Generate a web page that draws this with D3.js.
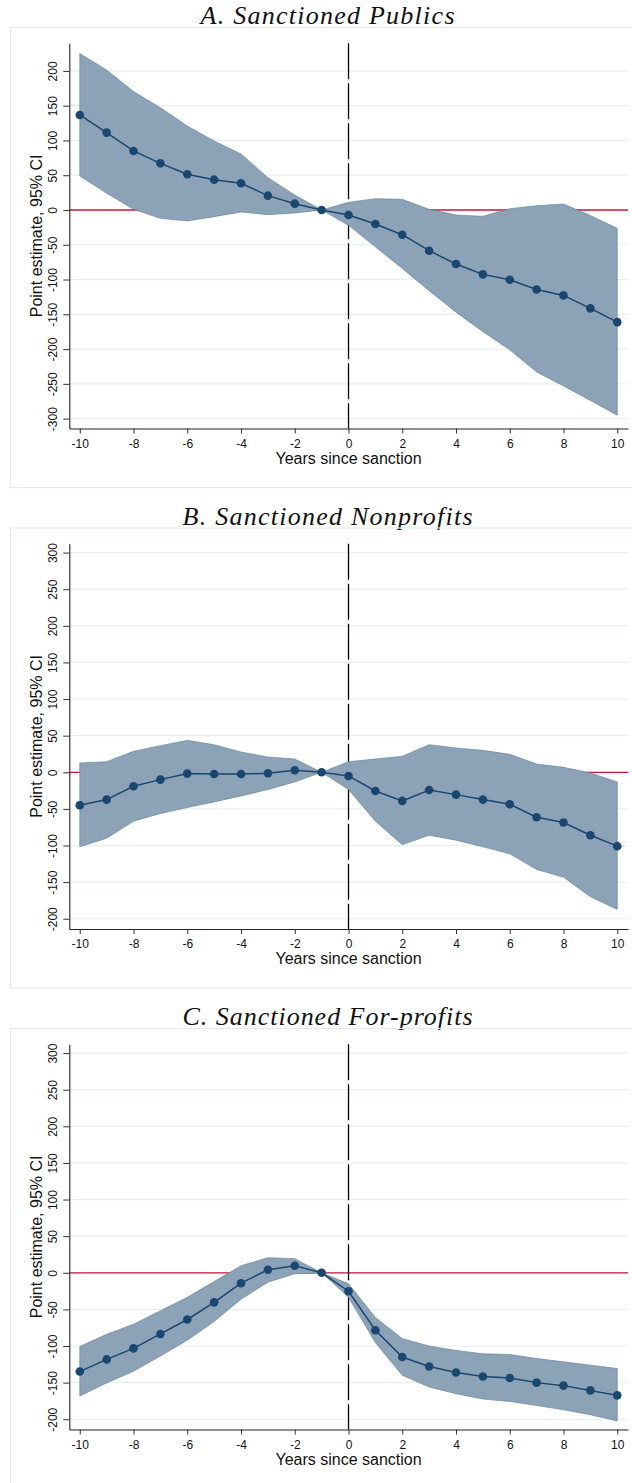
<!DOCTYPE html>
<html>
<head>
<meta charset="utf-8">
<script src="https://cdn.jsdelivr.net/npm/d3@7"></script>
<style>
  body { margin: 0; background: #fff; }
  svg { display: block; }
</style>
</head>
<body>
<div id="chart"></div>
<script>
// Event-study panels: point estimates with 95% CI by years since sanction

const years = [-10, -9, -8, -7, -6, -5, -4, -3, -2, -1, 0, 1, 2, 3, 4, 5, 6, 7, 8, 9, 10];
const xTicks = [-10, -8, -6, -4, -2, 0, 2, 4, 6, 8, 10];

const publicsEst = [136.7, 111.3, 84.9, 67.1, 51.3, 43.6, 38.4, 20.6, 9.1, 0, -7.2, -20.1, -35.5, -58.5, -77.7, -92.6, -100.4, -114.3, -122.8, -141.5, -161.2];
const publicsHi  = [225, 201.4, 170.3, 147.2, 120.9, 99.3, 80.6, 46.5, 21.6, 0, 11, 16.3, 15.3, 1, -7.2, -9.1, 1.9, 6.2, 8.6, -8, -26.4];
const publicsLo  = [48.9, 24, 1, -12, -15.8, -9.6, -2.9, -6.7, -4.3, 0, -22, -53, -84, -116, -147, -175, -201, -233, -253, -274, -295];

const nonprofitEst = [-45, -37.3, -19.1, -10, -1.8, -2.3, -2.3, -1.4, 2.7, 0, -5, -25.5, -39.1, -24.1, -30.5, -37.3, -43.6, -61.4, -68.6, -85.9, -100.9];
const nonprofitHi  = [12.7, 14.5, 28.6, 36.4, 43.6, 37.7, 27.7, 20.9, 18.2, 0, 14.5, 18.2, 21.8, 37.7, 33.2, 30, 24.5, 11.4, 6.8, -0.9, -13.2];
const nonprofitLo  = [-101.8, -90, -66.8, -56.4, -48.2, -40.5, -32.3, -23.6, -13.2, 0, -23.6, -66.8, -99, -85.9, -92.7, -101.8, -111.4, -132.7, -143.2, -170, -187.3];

const forprofitEst = [-134.9, -118.3, -103.2, -83.5, -63.8, -40.4, -14.2, 4.1, 9.6, 0, -25.2, -78.4, -115.1, -128, -136.2, -141.7, -143.6, -150, -154.1, -160.6, -167.4];
const forprofitHi  = [-100.5, -84, -70.2, -51.8, -33.5, -11.9, 9.6, 20.6, 19.3, 0, -15.1, -61, -89.9, -100, -106, -110.6, -111.5, -117, -121.6, -126.1, -130.7];
const forprofitLo  = [-168.3, -150.5, -134.4, -113.8, -92.2, -66.5, -36.2, -12.8, -1.4, 0, -33.5, -95.4, -139.9, -156, -165.1, -172.5, -175.7, -181.2, -187.2, -194, -202.3];

const yTicksPublics = [-300, -250, -200, -150, -100, -50, 0, 50, 100, 150, 200];
const yTicksOther   = [-200, -150, -100, -50, 0, 50, 100, 150, 200, 250, 300];

const titles = ["A. Sanctioned Publics", "B. Sanctioned Nonprofits", "C. Sanctioned For-profits"];

const width = 632, height = 1483;
const navy = "#1a476f";
const sans = "'Liberation Sans', Arial, sans-serif";

const panels = [
  { title: titles[0], est: publicsEst, hi: publicsHi, lo: publicsLo, yDomain: [-314.2, 239.7], yTicks: yTicksPublics, top: 0, tw: 254 },
  { title: titles[1], est: nonprofitEst, hi: nonprofitHi, lo: nonprofitLo, yDomain: [-214, 312], yTicks: yTicksOther, top: 500.5, tw: 290 },
  { title: titles[2], est: forprofitEst, hi: forprofitHi, lo: forprofitLo, yDomain: [-214, 312], yTicks: yTicksOther, top: 1001, tw: 290 }
];

const svg = d3.select("#chart").append("svg")
    .attr("width", width)
    .attr("height", height)
    .style("background", "#fff");

const plotLeft = 69.3, plotRight = 628, plotTop = 43.3, plotBottom = 428.5;

const x = d3.scaleLinear().domain([-10.39, 10.4]).range([plotLeft, plotRight]);

// plain hyphen for negatives, like the original
const fmt = d => String(d);

panels.forEach(p => {
  const g = svg.append("g").attr("transform", `translate(0,${p.top})`);
  const y = d3.scaleLinear().domain(p.yDomain).range([plotBottom, plotTop]);

  // panel title (LaTeX-style italic serif)
  g.append("text")
      .attr("x", 327.5)
      .attr("y", 24)
      .attr("text-anchor", "middle")
      .attr("textLength", p.tw)
      .attr("lengthAdjust", "spacing")
      .style("font-family", "'Liberation Serif', 'DejaVu Serif', serif")
      .style("font-style", "italic")
      .style("font-size", "26px")
      .style("fill", "#111")
      .text(p.title);

  // light graph frame
  g.append("rect")
      .attr("x", 10.5).attr("y", 27.5)
      .attr("width", 640).attr("height", 460)
      .attr("fill", "none")
      .attr("stroke", "#e3ebef")
      .attr("stroke-width", 1.2);

  // gridlines
  g.append("g")
    .selectAll("line")
    .data(p.yTicks)
    .join("line")
      .attr("x1", plotLeft).attr("x2", plotRight)
      .attr("y1", d => y(d)).attr("y2", d => y(d))
      .attr("stroke", "#e6eef2")
      .attr("stroke-width", 1.2);

  // zero line
  g.append("line")
      .attr("x1", plotLeft).attr("x2", plotRight)
      .attr("y1", y(0)).attr("y2", y(0))
      .attr("stroke", "#c8193c")
      .attr("stroke-width", 1.3);

  // sanction year
  g.append("line")
      .attr("x1", x(0)).attr("x2", x(0))
      .attr("y1", plotTop).attr("y2", plotBottom)
      .attr("stroke", "#000")
      .attr("stroke-width", 1.3)
      .attr("stroke-dasharray", "36,4");

  const rows = years.map((yr, i) => ({ yr, est: p.est[i], hi: p.hi[i], lo: p.lo[i] }));

  // CI band
  const area = d3.area()
      .x(d => x(d.yr))
      .y0(d => y(d.lo))
      .y1(d => y(d.hi));

  g.append("path")
      .datum(rows)
      .attr("d", area)
      .attr("fill", "#8ca3b7")
      .attr("stroke", "#5d7c98")
      .attr("stroke-width", 0.6);

  // point estimates
  const line = d3.line().x(d => x(d.yr)).y(d => y(d.est));
  g.append("path")
      .datum(rows)
      .attr("d", line)
      .attr("fill", "none")
      .attr("stroke", navy)
      .attr("stroke-width", 1.5);

  g.append("g")
    .selectAll("circle")
    .data(rows)
    .join("circle")
      .attr("cx", d => x(d.yr))
      .attr("cy", d => y(d.est))
      .attr("r", 4.3)
      .attr("fill", navy);

  // axes
  const xAxis = g.append("g")
      .attr("transform", `translate(0,${plotBottom})`)
      .call(d3.axisBottom(x).tickValues(xTicks).tickSize(5).tickSizeOuter(0).tickPadding(5.6).tickFormat(fmt));
  xAxis.select(".domain").attr("stroke", "#222").attr("stroke-width", 1.1);
  xAxis.selectAll(".tick line").attr("stroke", "#333");
  xAxis.selectAll(".tick text")
      .style("font-family", sans)
      .style("font-size", "12px")
      .style("fill", "#111");

  const yAxis = g.append("g")
      .attr("transform", `translate(${plotLeft},0)`)
      .call(d3.axisLeft(y).tickValues(p.yTicks).tickSize(6).tickSizeOuter(0).tickFormat(fmt));
  yAxis.select(".domain").attr("stroke", "#222").attr("stroke-width", 1.1);
  yAxis.selectAll(".tick line").attr("stroke", "#333");
  yAxis.selectAll(".tick text")
      .attr("transform", "rotate(-90)")
      .attr("x", 0)
      .attr("y", -12.5)
      .attr("dy", 0)
      .attr("text-anchor", "middle")
      .style("font-family", sans)
      .style("font-size", "12px")
      .style("fill", "#111");

  // axis titles
  g.append("text")
      .attr("x", x(0))
      .attr("y", 463.5)
      .attr("text-anchor", "middle")
      .style("font-family", sans)
      .style("font-size", "16px")
      .style("fill", "#111")
      .text("Years since sanction");

  g.append("text")
      .attr("transform", `translate(42,${(plotTop + plotBottom) / 2}) rotate(-90)`)
      .attr("text-anchor", "middle")
      .style("font-family", sans)
      .style("font-size", "16px")
      .style("fill", "#111")
      .text("Point estimate, 95% CI");
});
</script>
</body>
</html>
